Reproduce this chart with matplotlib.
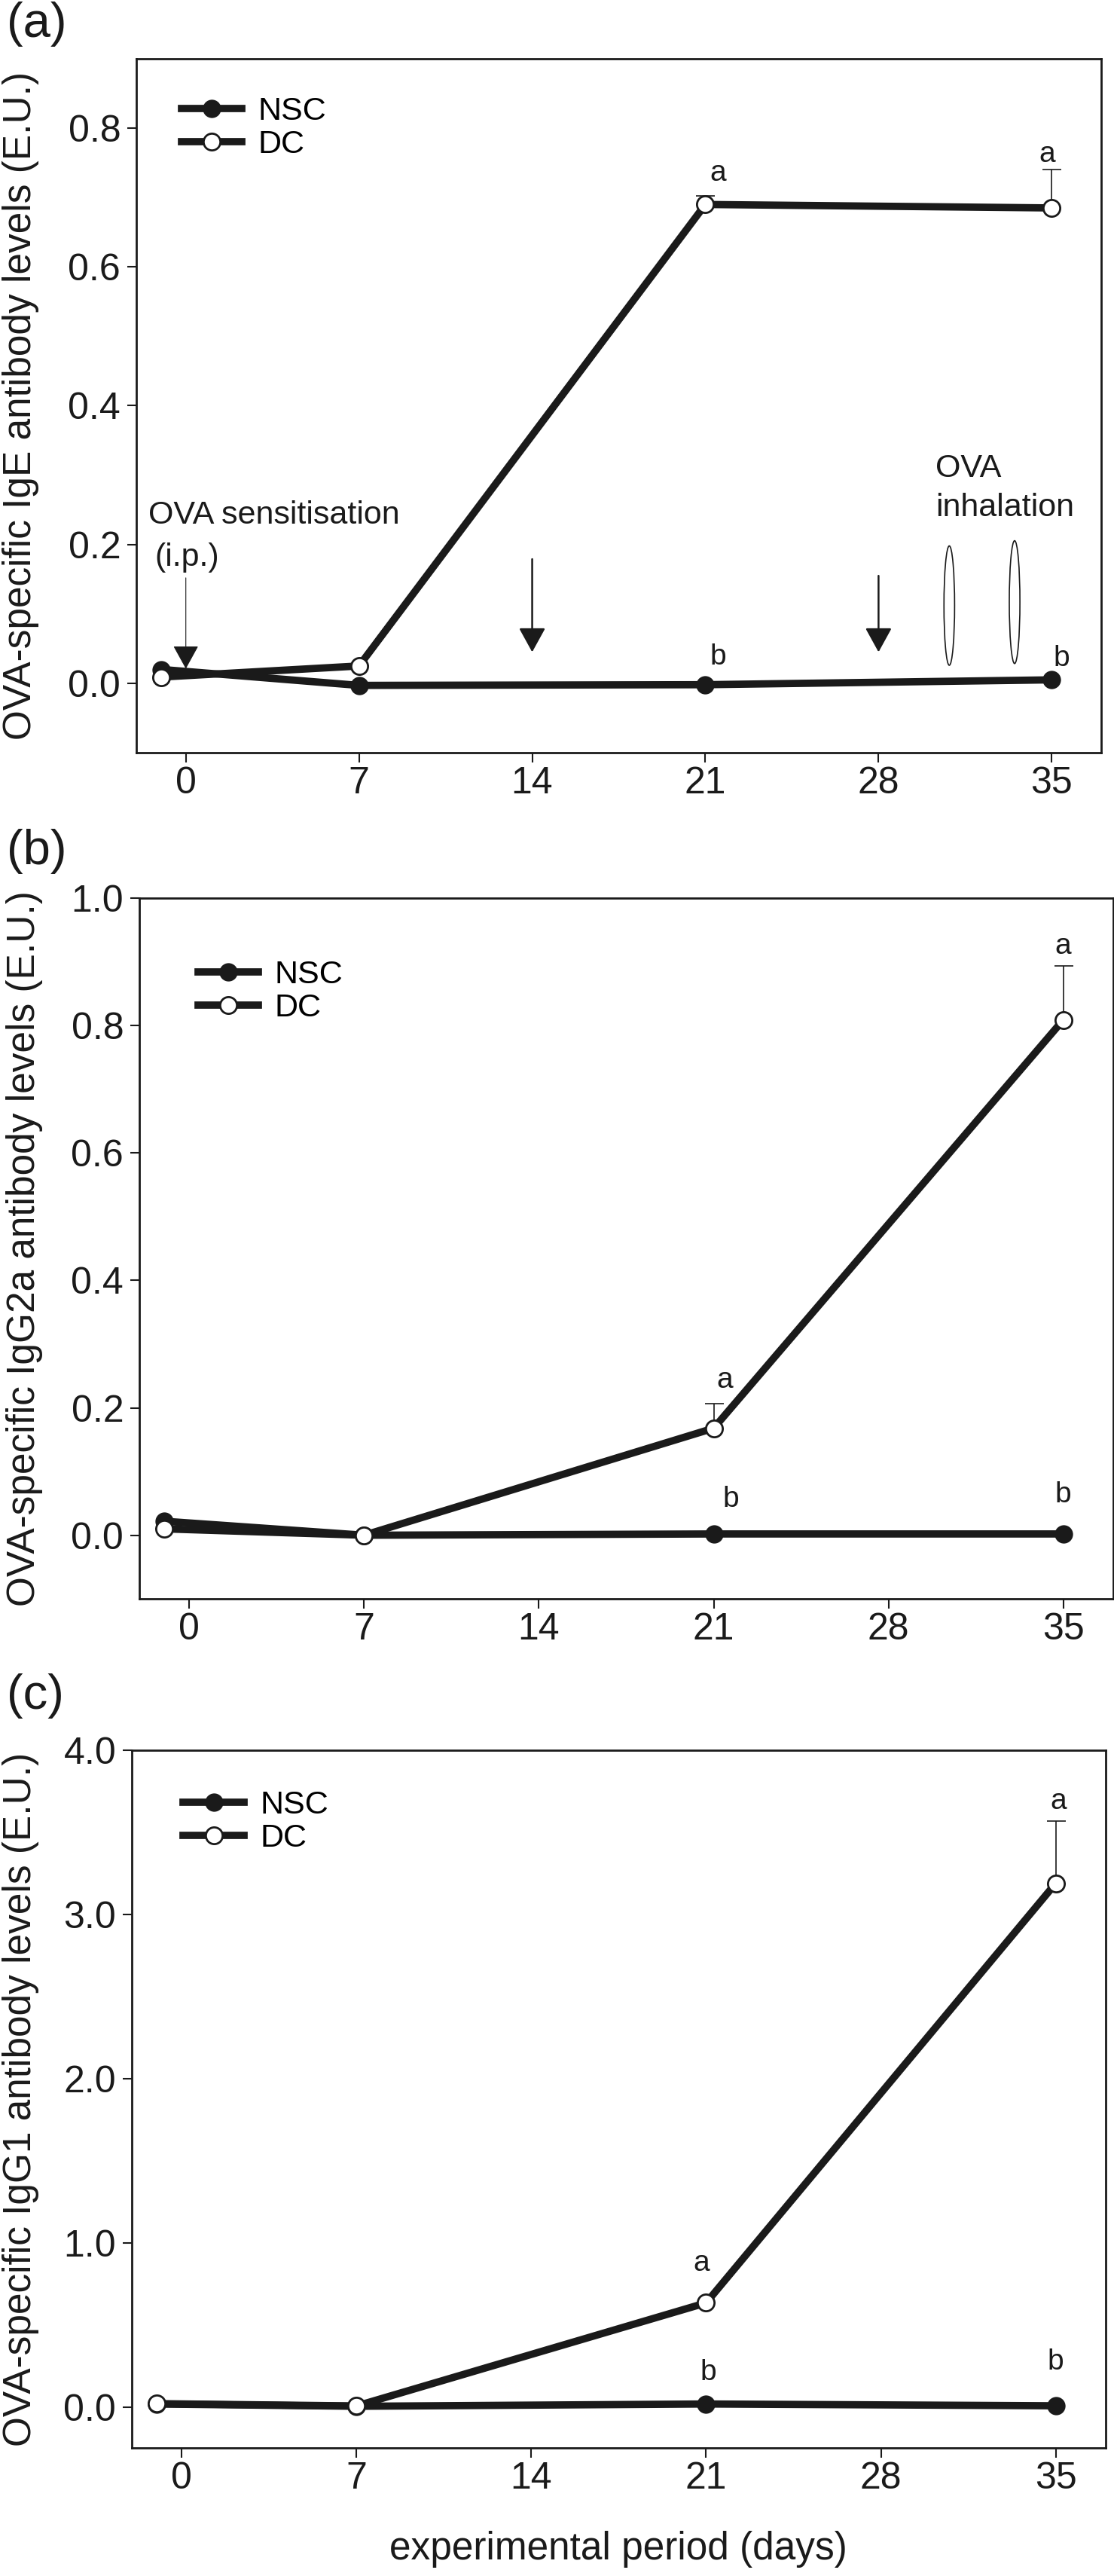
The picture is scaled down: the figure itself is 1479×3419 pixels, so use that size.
import matplotlib
matplotlib.use("Agg")
import matplotlib.pyplot as plt
from matplotlib.patches import Ellipse

plt.rcParams["font.family"] = ["Liberation Sans", "DejaVu Sans"]

# sampling days (day 0 baseline is drawn slightly left of the 0 tick)
days = [-1, 7, 21, 35]
day_ticks = [0, 7, 14, 21, 28, 35]

# (a) IgE
ige_nsc = [0.020, -0.003, -0.002, 0.005]
ige_dc = [0.009, 0.025, 0.690, 0.685]
ige_dc_err = [0.0, 0.0, 0.012, 0.055]

# (b) IgG2a
igg2a_nsc = [0.022, 0.0, 0.002, 0.002]
igg2a_dc = [0.010, 0.0, 0.168, 0.809]
igg2a_dc_err = [0.0, 0.0, 0.038, 0.085]

# (c) IgG1
igg1_nsc = [0.018, 0.004, 0.018, 0.007]
igg1_dc = [0.020, 0.006, 0.634, 3.19]
igg1_dc_err = [0.0, 0.0, 0.0, 0.38]

# significance letters (x, y, text)
ige_letters = [(21.5, 0.735, "a"), (34.8, 0.762, "a"), (21.5, 0.038, "b"), (35.4, 0.036, "b")]
igg2a_letters = [(21.45, 0.243, "a"), (35.0, 0.925, "a"), (21.7, 0.056, "b"), (35.0, 0.064, "b")]
igg1_letters = [(20.8, 0.875, "a"), (35.1, 3.69, "a"), (21.1, 0.21, "b"), (35.0, 0.275, "b")]

ink = "#1a1a1a"

fig = plt.figure(figsize=(14.79, 34.19), dpi=100)

panels = [
    dict(rect=[0.1224, 0.7078, 0.8661, 0.2694], nsc=ige_nsc, dc=ige_dc, err=ige_dc_err,
         ylim=(-0.1, 0.9), yticks=[0.0, 0.2, 0.4, 0.6, 0.8], fmt="{:.1f}",
         ylabel="OVA-specific IgE antibody levels (E.U.)", letters=ige_letters,
         tag="(a)", tag_y=32, leg=(0.047, 0.946), ylab_x=28),
    dict(rect=[0.1251, 0.3793, 0.8742, 0.2720], nsc=igg2a_nsc, dc=igg2a_dc, err=igg2a_dc_err,
         ylim=(-0.1, 1.0), yticks=[0.0, 0.2, 0.4, 0.6, 0.8, 1.0], fmt="{:.1f}",
         ylabel="OVA-specific IgG2a antibody levels (E.U.)", letters=igg2a_letters,
         tag="(b)", tag_y=1130, leg=(0.06, 0.912), ylab_x=33),
    dict(rect=[0.1183, 0.0497, 0.8742, 0.2708], nsc=igg1_nsc, dc=igg1_dc, err=igg1_dc_err,
         ylim=(-0.25, 4.0), yticks=[0.0, 1.0, 2.0, 3.0, 4.0], fmt="{:.1f}",
         ylabel="OVA-specific IgG1 antibody levels (E.U.)", letters=igg1_letters,
         tag="(c)", tag_y=2251, leg=(0.053, 0.943), ylab_x=28),
]

H = 3419.0
W = 1479.0

axes = []
for p in panels:
    ax = fig.add_axes(p["rect"])
    axes.append(ax)

    ax.errorbar(days, p["dc"], yerr=[[0] * len(days), p["err"]], fmt="none",
                ecolor=ink, elinewidth=1.2, capsize=9, capthick=1.2, zorder=2)
    ax.plot(days, p["nsc"], color=ink, lw=7, marker="o", ms=16, mfc=ink, mec=ink,
            mew=1.5, label="NSC", zorder=3)
    ax.plot(days, p["dc"], color=ink, lw=7, marker="o", ms=16, mfc="white", mec=ink,
            mew=2, label="DC", zorder=4)

    for x, y, s in p["letters"]:
        ax.text(x, y, s, fontsize=28, ha="center", va="center", color=ink)

    ax.set_xlim(-2, 37)
    ax.set_ylim(*p["ylim"])
    ax.set_xticks(day_ticks)
    ax.set_xticklabels([str(d) for d in day_ticks])
    ax.set_yticks(p["yticks"])
    ax.set_yticklabels([p["fmt"].format(v) for v in p["yticks"]])
    ax.tick_params(axis="x", direction="out", length=9, width=1.5, labelsize=36, pad=4, colors=ink)
    ax.tick_params(axis="y", direction="out", length=9, width=1.5, labelsize=36, pad=6, colors=ink)
    for sp in ax.spines.values():
        sp.set_linewidth(2)
        sp.set_color(ink)

    ax.legend(loc="upper left", bbox_to_anchor=p["leg"], frameon=False, fontsize=31,
              handlelength=1.86, handletextpad=0.5, labelspacing=0.1, borderpad=0,
              borderaxespad=0, numpoints=1)

    fig.text(p["ylab_x"] / W, p["rect"][1] + p["rect"][3] / 2, p["ylabel"], rotation=90,
             ha="center", va="center", fontsize=37, color=ink)
    fig.text(9 / W, 1 - p["tag_y"] / H, p["tag"], ha="left", va="center", fontsize=47, color=ink)

# extra annotations on panel (a): sensitisation arrows and inhalation marks
ax = axes[0]
ax.annotate("", xy=(0, 0.021), xytext=(0, 0.152),
            arrowprops=dict(arrowstyle="-|>,head_length=2.0,head_width=1.1", mutation_scale=10,
                            lw=0.8, color=ink, shrinkA=0, shrinkB=0))
for d, top in [(14, 0.179), (28, 0.155)]:
    ax.annotate("", xy=(d, 0.045), xytext=(d, top),
                arrowprops=dict(arrowstyle="-|>,head_length=2.0,head_width=1.1", mutation_scale=10,
                                lw=1.8, color=ink, shrinkA=0, shrinkB=0))
for cx, cy, h in [(30.86, 0.112, 0.172), (33.5, 0.117, 0.177)]:
    ax.add_patch(Ellipse((cx, cy), 0.43, h, fill=False, ec=ink, lw=1.2))
ax.text(-1.5, 0.242, "OVA sensitisation", fontsize=31, ha="left", va="center", color=ink)
ax.text(-1.25, 0.181, "(i.p.)", fontsize=31, ha="left", va="center", color=ink)
ax.text(30.3, 0.309, "OVA", fontsize=31, ha="left", va="center", color=ink)
ax.text(30.3, 0.253, "inhalation", fontsize=31, ha="left", va="center", color=ink)

fig.text(821 / W, 1 - 3383 / H, "experimental period (days)", ha="center", va="center",
         fontsize=37, color=ink)

fig.savefig("out.png", dpi=100)
